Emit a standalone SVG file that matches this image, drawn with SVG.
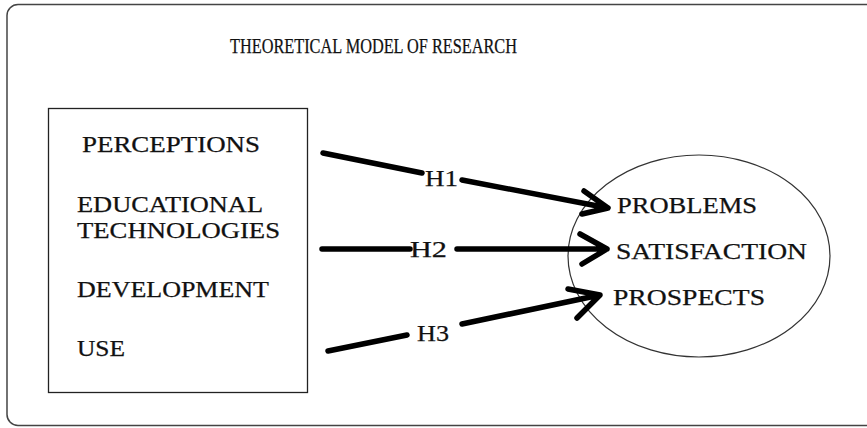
<svg xmlns="http://www.w3.org/2000/svg" width="867" height="428" viewBox="0 0 867 428">
<defs>
<style>
.t{font-family:"Liberation Serif","Times New Roman",serif;fill:#111;stroke:#111;stroke-width:0.25;}
.conn{stroke:#000;stroke-width:5.5;fill:none;stroke-linecap:round;stroke-linejoin:round;}
</style>
</defs>
<rect x="0" y="0" width="867" height="428" fill="#fff"/>
<rect x="7" y="4.5" width="900" height="421" rx="11" fill="none" stroke="#444" stroke-width="1.5"/>
<g id="title">
<text class="t" x="230" y="53" font-size="21" textLength="287" lengthAdjust="spacingAndGlyphs">THEORETICAL MODEL OF RESEARCH</text>
</g>
<g id="factors">
<rect x="48.5" y="108.5" width="259" height="284" fill="none" stroke="#222" stroke-width="1.3"/>
<text class="t" x="82" y="152" font-size="23" textLength="178" lengthAdjust="spacingAndGlyphs">PERCEPTIONS</text>
<text class="t" x="77" y="212" font-size="23" textLength="186" lengthAdjust="spacingAndGlyphs">EDUCATIONAL</text>
<text class="t" x="77" y="238" font-size="23" textLength="203" lengthAdjust="spacingAndGlyphs">TECHNOLOGIES</text>
<text class="t" x="77" y="297" font-size="23" textLength="192" lengthAdjust="spacingAndGlyphs">DEVELOPMENT</text>
<text class="t" x="77" y="356" font-size="23" textLength="48" lengthAdjust="spacingAndGlyphs">USE</text>
</g>
<g id="outcomes">
<ellipse cx="699" cy="256" rx="131" ry="101" fill="none" stroke="#333" stroke-width="1.2"/>
<text class="t" x="617" y="213" font-size="23" textLength="140" lengthAdjust="spacingAndGlyphs">PROBLEMS</text>
<text class="t" x="616" y="259" font-size="23" textLength="191" lengthAdjust="spacingAndGlyphs">SATISFACTION</text>
<text class="t" x="613" y="305" font-size="23" textLength="152" lengthAdjust="spacingAndGlyphs">PROSPECTS</text>
</g>
<g id="connectors">
<path class="conn" d="M323 153 L422 173 M462 180 L608 208 M584 191 L608 208 L582 214"/>
<path class="conn" d="M322 249 L410 249 M457 249 L607 249 M580 234 L607 249 L582 264"/>
<path class="conn" d="M328 351 L407 335 M462 324 L600 295 M568 289 L600 295 L577 318"/>
<text class="t" x="425" y="186" font-size="23" textLength="33" lengthAdjust="spacingAndGlyphs">H1</text>
<text class="t" x="410" y="257" font-size="23" textLength="37" lengthAdjust="spacingAndGlyphs">H2</text>
<text class="t" x="417" y="341" font-size="23" textLength="32" lengthAdjust="spacingAndGlyphs">H3</text>
</g>
</svg>
